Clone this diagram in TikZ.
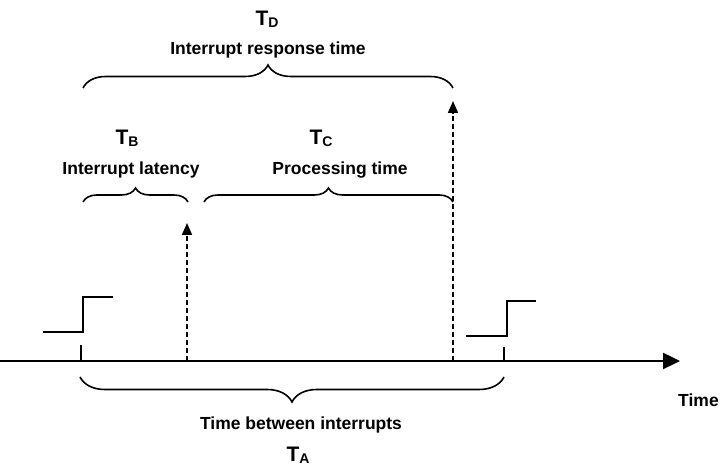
\documentclass[tikz,border=0pt]{standalone}
\usepackage{fontspec}
\setmainfont{Liberation Sans}
\usetikzlibrary{arrows.meta,decorations.pathreplacing}
\newcommand{\Tsub}[1]{{\fontsize{21}{21}\selectfont T\raisebox{-2pt}{\fontsize{14}{14}\selectfont #1}}}
\tikzset{
  lbl/.style={font=\bfseries\fontsize{17.5}{18}\selectfont, inner sep=0pt, anchor=base},
  tsym/.style={font=\bfseries, inner sep=0pt, anchor=base},
  axisline/.style={line width=2.4pt, -{Triangle[length=17pt,width=16pt]}},
  signal/.style={line width=2.2pt},
  tickline/.style={line width=1.5pt},
  event/.style={line width=1.7pt, dash pattern=on 5pt off 3pt, -{Triangle[length=12pt,width=10pt]}},
  bracket/.style={line width=1.6pt, decorate, decoration={brace, amplitude=#1}},
}
\begin{document}
\begin{tikzpicture}[x=1pt,y=1pt]
\useasboundingbox (0,0) rectangle (721,470);
% coordinates
\coordinate (ax0) at (0,109);
\coordinate (ax1) at (680,109);
\coordinate (tickL) at (81,109);
\coordinate (tickLt) at (81,125);
\coordinate (tickR) at (504,109);
\coordinate (tickRt) at (504,123);
\coordinate (e1b) at (187,109);
\coordinate (e1t) at (187,247);
\coordinate (e2b) at (453,109);
\coordinate (e2t) at (453,369);
% axis
\draw[axisline] (ax0) -- (ax1);
% signals
\draw[signal] (43,138) -- (83,138) -- (83,173) -- (113,173);
\draw[signal] (466,134) -- (507,134) -- (507,169) -- (536,169);
% ticks
\draw[tickline] (tickL) -- (tickLt);
\draw[tickline] (tickR) -- (tickRt);
% event arrows
\draw[event] (e1b) -- (e1t);
\draw[event] (e2b) -- (e2t);
% braces
\coordinate (bD0) at (83,382); \coordinate (bD1) at (453,382);
\coordinate (bB0) at (83,268); \coordinate (bB1) at (188,268);
\coordinate (bC0) at (204,268); \coordinate (bC1) at (453,268);
\coordinate (bA0) at (80,93); \coordinate (bA1) at (504,93);
\draw[bracket=23pt] (bD0) -- (bD1);
\draw[bracket=14pt] (bB0) -- (bB1);
\draw[bracket=14pt] (bC0) -- (bC1);
\draw[bracket=25pt] (bA1) -- (bA0);
% labels
\node[tsym] (TD) at (267,444) {\Tsub{D}};
\node[lbl] (lD) at (268,415) {Interrupt response time};
\node[tsym] (TB) at (127,325) {\Tsub{B}};
\node[lbl] (lB) at (131,295) {Interrupt latency};
\node[tsym] (TC) at (321,325) {\Tsub{C}};
\node[lbl] (lC) at (340,295) {Processing time};
\node[lbl] (lA) at (301,40) {Time between interrupts};
\node[tsym] (TA) at (298,8) {\Tsub{A}};
\node[lbl, anchor=base west] (time) at (678,63) {Time};
\end{tikzpicture}
\end{document}
